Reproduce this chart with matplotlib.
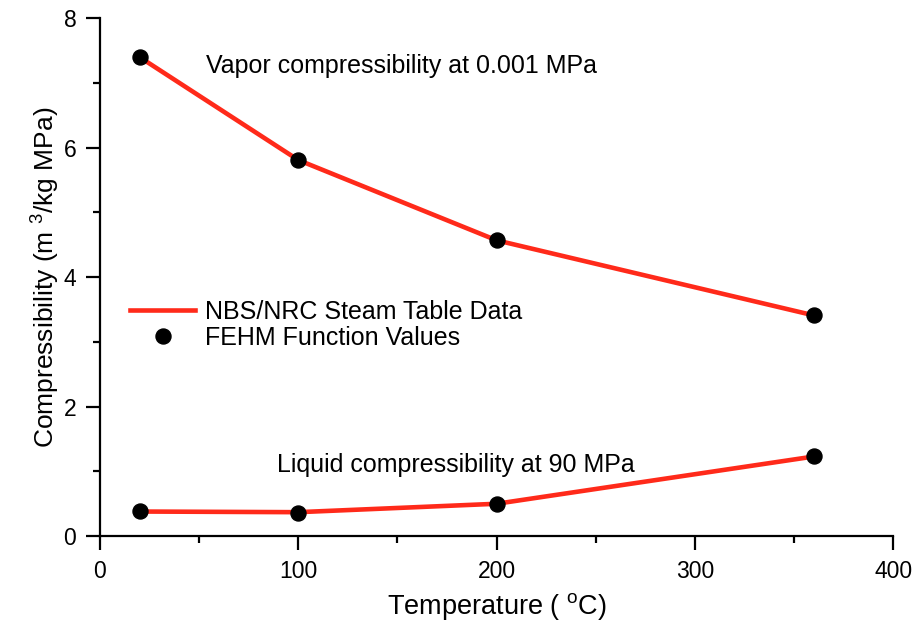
import matplotlib
matplotlib.use("Agg")
import matplotlib.pyplot as plt
from matplotlib.ticker import MultipleLocator

plt.rcParams["font.family"] = ["Liberation Sans", "DejaVu Sans"]
plt.rcParams["mathtext.fontset"] = "custom"
plt.rcParams["mathtext.rm"] = "Liberation Sans"
plt.rcParams["mathtext.it"] = "Liberation Sans"

# steam table curves (lines) and FEHM function values (dots)
temps = [20, 100, 200, 360]
vapor_table = [7.40, 5.81, 4.57, 3.41]
liquid_table = [0.38, 0.37, 0.50, 1.23]
vapor_fehm = [7.40, 5.81, 4.57, 3.41]
liquid_fehm = [0.39, 0.36, 0.49, 1.24]

RED = "#ff2a1a"

fig = plt.figure(figsize=(9.17, 6.30), dpi=100, facecolor="white")
ax = fig.add_axes([0.109, 0.149, 0.865, 0.822])

line, = ax.plot(temps, vapor_table, color=RED, lw=3.3, zorder=2)
ax.plot(temps, liquid_table, color=RED, lw=3.3, zorder=2)
dots, = ax.plot(temps, vapor_fehm, "o", color="black", ms=10.8, zorder=3)
ax.plot(temps, liquid_fehm, "o", color="black", ms=10.8, zorder=3)

ax.set_xlim(0, 400)
ax.set_ylim(0, 8)
ax.xaxis.set_major_locator(MultipleLocator(100))
ax.xaxis.set_minor_locator(MultipleLocator(50))
ax.yaxis.set_major_locator(MultipleLocator(2))
ax.yaxis.set_minor_locator(MultipleLocator(1))

for s in ("top", "right"):
    ax.spines[s].set_visible(False)
for s in ("left", "bottom"):
    ax.spines[s].set_linewidth(1.6)
ax.tick_params(which="both", direction="out", width=1.6, labelsize=16.5)
ax.tick_params(which="major", length=10, pad=7)
ax.tick_params(which="minor", length=5)

ax.set_xlabel("Temperature ( $^{o}$C)", fontsize=19.5, labelpad=6)
ax.set_ylabel("Compressibility (m $^{3}$/kg MPa)", fontsize=19, labelpad=1)

ax.text(53.5, 7.15, "Vapor compressibility at 0.001 MPa", fontsize=18, va="baseline")
ax.text(89.3, 0.99, "Liquid compressibility at 90 MPa", fontsize=18, va="baseline")

ax.legend([line, dots], ["NBS/NRC Steam Table Data", "FEHM Function Values"],
          loc="upper left", bbox_to_anchor=(0.038, 0.456), frameon=False,
          fontsize=18, handlelength=2.6, handletextpad=0.4,
          labelspacing=0.07, borderaxespad=0, borderpad=0)

fig.savefig("out.png", dpi=100, facecolor="white")
